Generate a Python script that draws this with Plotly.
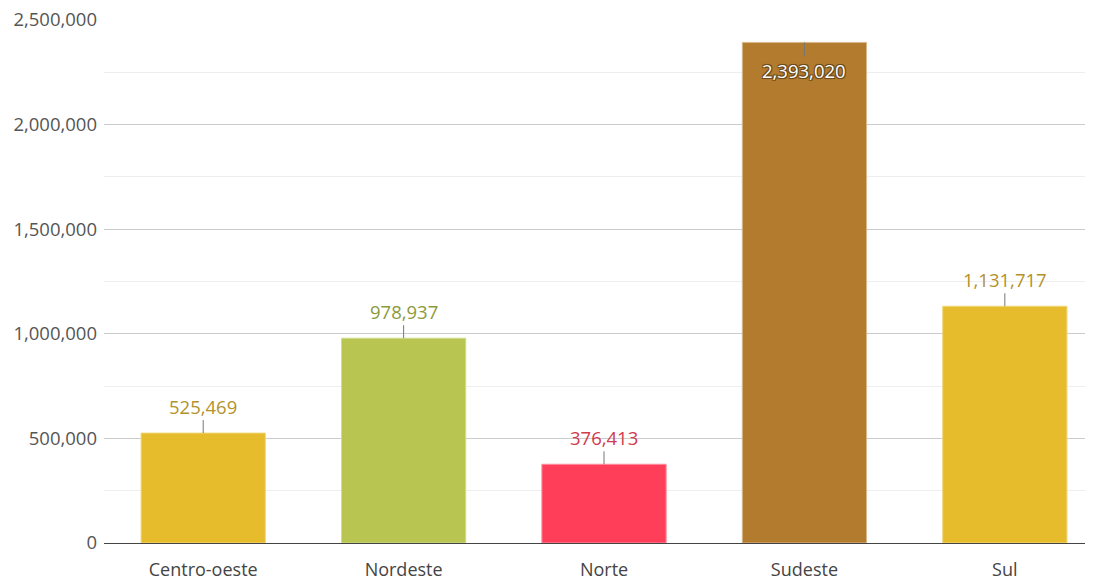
import plotly.graph_objects as go

regions = ["Centro-oeste", "Nordeste", "Norte", "Sudeste", "Sul"]
values = [525469, 978937, 376413, 2393020, 1131717]
bar_colors = ["#E6BC2C", "#B8C651", "#FF3F5A", "#B37B2E", "#E6BC2C"]
line_colors = ["#F0D77A", "#D2DC93", "#FF8C9C", "#D9B98A", "#F0D77A"]
label_colors = ["#B3922C", "#8C9A3C", "#D23A4F", "#FFFFFF", "#B3922C"]
tick_vals = [0, 500000, 1000000, 1500000, 2000000, 2500000]
tick_text = ["0", "500,000", "1,000,000", "1,500,000", "2,000,000", "2,500,000"]

FONT = "Open Sans, Noto Sans, sans-serif"
OUTLINE = "#6b4a1c"

fig = go.Figure(go.Bar(
    x=regions, y=values,
    marker=dict(color=bar_colors, line=dict(color=line_colors, width=1)),
    width=0.62,
    hoverinfo="x+y",
))

for r, v, c in zip(regions, values, label_colors):
    inside = r == "Sudeste"
    fig.add_annotation(
        x=r, y=v, xref="x", yref="y",
        text=f"{v:,}",
        showarrow=True, arrowhead=0, arrowwidth=1, arrowcolor="#777777",
        ax=0, ay=28 if inside else -27,
        standoff=0,
        font=dict(
            family=FONT, size=18.5, color=c,
            shadow=(f"-1px -1px 0 {OUTLINE}, 1px -1px 0 {OUTLINE}, -1px 1px 0 {OUTLINE}, 1px 1px 0 {OUTLINE}, 0 0 2px {OUTLINE}"
                    if inside else "none"),
        ),
    )

fig.update_layout(
    width=1099, height=581,
    margin=dict(l=104, r=14, t=20, b=38),
    paper_bgcolor="white", plot_bgcolor="white",
    showlegend=False,
    font=dict(family=FONT, size=18.5, color="#555555"),
    xaxis=dict(
        range=[-0.495, 4.4],
        automargin=False,
        showgrid=False, showline=True, linecolor="#444444", linewidth=1,
        ticks="", ticklabelstandoff=10,
        tickfont=dict(size=18, color="#444444"),
    ),
    yaxis=dict(
        range=[0, 2500000],
        automargin=False,
        tickvals=tick_vals, ticktext=tick_text,
        showgrid=True, gridcolor="#CCCCCC", gridwidth=1,
        zeroline=False, showline=False, ticks="",
        ticklabelstandoff=6,
        tickfont=dict(size=18.5, color="#555555"),
        minor=dict(dtick=250000, tick0=0, showgrid=True, gridcolor="#EEEEEE", gridwidth=1),
    ),
)

fig.write_html("out.html")
